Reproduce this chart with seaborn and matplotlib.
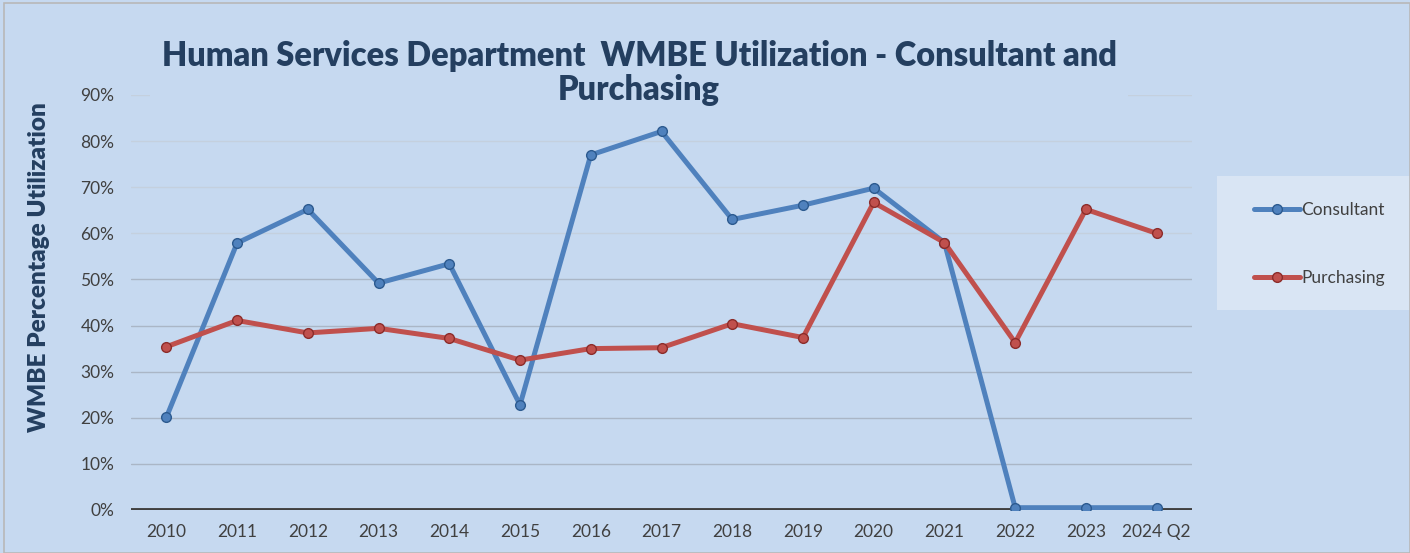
import pandas as pd
import numpy as np
import matplotlib.pyplot as plt
import seaborn as sns
from matplotlib.ticker import PercentFormatter

# data
years = ["2010", "2011", "2012", "2013", "2014", "2015", "2016", "2017",
         "2018", "2019", "2020", "2021", "2022", "2023", "2024 Q2"]
consultant = [20.1, 57.9, 65.2, 49.2, 53.4, 22.8, 77.0, 82.1, 63.0, 66.1,
              69.8, 58.0, 0.5, 0.5, 0.5]
purchasing = [35.4, 41.1, 38.4, 39.4, 37.2, 32.5, 35.0, 35.2, 40.4, 37.4,
              66.7, 58.0, 36.3, 65.2, 60.0]

bg = "#c6d9f0"
navy = "#243f60"
blue = "#4f81bd"
red = "#c0504d"

df = pd.DataFrame({"Year": years, "Consultant": consultant, "Purchasing": purchasing})
long_df = df.melt(id_vars="Year", var_name="Series", value_name="Pct")
long_df["pos"] = long_df["Year"].map({y: i for i, y in enumerate(years)})

sns.set_theme(style="white")
plt.rcParams["font.family"] = ["Lato", "DejaVu Sans"]

fig = plt.figure(figsize=(14.1, 5.53), dpi=100, facecolor=bg)
ax = fig.add_axes([131 / 1410, 43 / 553, (1192 - 131) / 1410, (510 - 95) / 553])
ax.set_facecolor(bg)

sns.lineplot(data=long_df, x="pos", y="Pct", hue="Series", sort=False,
             palette={"Consultant": blue, "Purchasing": red},
             marker="o", markersize=7, linewidth=3.6, ax=ax, legend=False,
             zorder=3)
for ln, c in zip(ax.lines, ["#2c5a8f", "#8c2c2a"]):
    ln.set_markeredgecolor(c)
    ln.set_markeredgewidth(1.0)

ax.set_xlim(-0.5, len(years) - 0.5)
ax.set_ylim(0, 90)
ax.set_yticks(np.arange(0, 91, 10))
ax.yaxis.set_major_formatter(PercentFormatter(decimals=0))
ax.set_xticks(range(len(years)))
ax.set_xticklabels(years)
ax.tick_params(axis="both", labelsize=12.5, colors="#404040", length=0, pad=10)
ax.tick_params(axis="y", pad=12)
for t in ax.get_xticklabels() + ax.get_yticklabels():
    t.set_color("#404040")

for v in np.arange(10, 91, 10):
    ax.axhline(v, color="#aab6c6" if v < 60 else "#c4d0de", linewidth=1.0, zorder=1)
ax.axhline(0, color="#404040", linewidth=2.8, zorder=2)
for s in ax.spines.values():
    s.set_visible(False)

ax.set_xlabel("")
ax.set_ylabel("WMBE Percentage Utilization", fontsize=17.5, fontweight="heavy",
              color=navy)
ax.yaxis.set_label_coords(-0.076, 0.585)

# title area covers the top gridline
fig.patches.append(plt.Rectangle((150 / 1410, 1 - 110 / 553), (1128 - 150) / 1410, 105 / 553,
                                 transform=fig.transFigure, facecolor=bg,
                                 edgecolor="none", zorder=1))
fig.text(639 / 1410, 1 - 73 / 553,
         "Human Services Department  WMBE Utilization - Consultant and\nPurchasing",
         ha="center", va="center", fontsize=23.5, fontweight="heavy", color=navy,
         linespacing=1.05, zorder=2)

# legend box
fig.patches.append(plt.Rectangle((1217 / 1410, 1 - 310 / 553), 193 / 1410, 134 / 553,
                                 transform=fig.transFigure, facecolor="#d9e5f4",
                                 edgecolor="none", zorder=0))
handles = [plt.Line2D([], [], color=blue, marker="o", markersize=7, linewidth=3.6,
                      markeredgecolor="#2c5a8f"),
           plt.Line2D([], [], color=red, marker="o", markersize=7, linewidth=3.6,
                      markeredgecolor="#8c2c2a")]
leg = fig.legend(handles, ["Consultant", "Purchasing"],
                 loc="center left", bbox_to_anchor=(1224 / 1410, 1 - 244 / 553),
                 frameon=False, fontsize=12.5, labelspacing=3.0, handlelength=2.6,
                 handletextpad=0.1, borderpad=1.75, borderaxespad=0)
for t in leg.get_texts():
    t.set_color("#404040")

# thin frame around figure
fig.patches.append(plt.Rectangle((0.003, 0), 0.997, 0.995, transform=fig.transFigure,
                                 fill=False, edgecolor="#b8b8b8", linewidth=1.2))

fig.savefig("out.png", dpi=100, facecolor=bg)
